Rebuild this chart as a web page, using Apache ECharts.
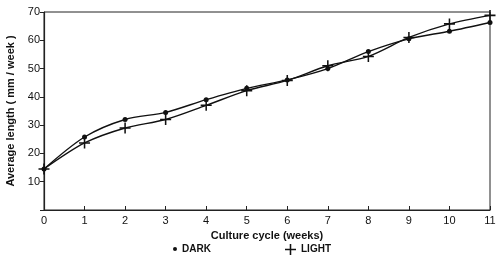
<!DOCTYPE html>
<html>
<head>
<meta charset="utf-8">
<script src="https://cdn.jsdelivr.net/npm/echarts@6/dist/echarts.min.js"></script>
<style>
  html, body { margin: 0; padding: 0; background: #fff; }
  #chart { width: 500px; height: 258px; }
</style>
</head>
<body>
<div id="chart"></div>
<script>
const weeks = ["0", "1", "2", "3", "4", "5", "6", "7", "8", "9", "10", "11"];
const darkValues = [14.5, 25.8, 32, 34.5, 39, 43, 46, 50, 56, 60.5, 63.2, 66.3];
const lightValues = [14.5, 23.7, 29, 32, 37, 42.2, 45.8, 51, 54.3, 61, 65.8, 68.8];

const plusPath = "path://M4.3,0L5.7,0L5.7,4.3L10,4.3L10,5.7L5.7,5.7L5.7,10L4.3,10L4.3,5.7L0,5.7L0,4.3L4.3,4.3Z";
const font = "Liberation Sans";
const legendText = { color: "#111", fontFamily: font, fontWeight: "bold", fontSize: 10 };

const chart = echarts.init(document.getElementById("chart"));
chart.setOption({
  animation: false,
  grid: {
    left: 44, right: 10, top: 12, bottom: 48,
    outerBoundsMode: "none",
    containLabel: false,
    show: true, borderColor: "#222", borderWidth: 1,
  },
  legend: [
    {
      top: 239, left: 168,
      itemWidth: 4, itemHeight: 4, itemGap: 6,
      textStyle: legendText,
      data: [{ name: "DARK", icon: "circle", itemStyle: { color: "#111" } }],
    },
    {
      top: 239, left: 280,
      itemWidth: 11, itemHeight: 11, itemGap: 6,
      textStyle: legendText,
      data: [{ name: "LIGHT", icon: plusPath, itemStyle: { color: "#111" } }],
    },
  ],
  xAxis: {
    type: "category",
    data: weeks,
    boundaryGap: false,
    name: "Culture cycle (weeks)",
    nameLocation: "middle",
    nameGap: 13,
    nameTextStyle: { color: "#111", fontFamily: font, fontWeight: "bold", fontSize: 11 },
    axisLine: { lineStyle: { color: "#222", width: 1.2 } },
    axisTick: { inside: true, length: 4, lineStyle: { color: "#222" } },
    axisLabel: { color: "#111", fontFamily: font, fontSize: 11, margin: 5 },
  },
  yAxis: {
    type: "value",
    min: 0, max: 70, interval: 10,
    name: "Average length ( mm / week )",
    nameLocation: "middle",
    nameGap: 27,
    nameTextStyle: { color: "#111", fontFamily: font, fontWeight: "bold", fontSize: 11 },
    axisLine: { show: true, lineStyle: { color: "#222", width: 1.2 } },
    axisTick: { show: true, length: 4, lineStyle: { color: "#222" } },
    axisLabel: {
      color: "#111", fontFamily: font, fontSize: 11, margin: 4,
      formatter: (v) => (v === 0 ? "" : v),
    },
    splitLine: { show: false },
  },
  series: [
    {
      name: "DARK",
      type: "line",
      data: darkValues,
      smooth: 0.3,
      symbol: "circle",
      symbolSize: 5,
      lineStyle: { color: "#111", width: 1.4 },
      itemStyle: { color: "#111" },
    },
    {
      name: "LIGHT",
      type: "line",
      data: lightValues,
      smooth: 0.3,
      symbol: plusPath,
      symbolSize: 11,
      lineStyle: { color: "#111", width: 1.4 },
      itemStyle: { color: "#111" },
    },
  ],
});
</script>
</body>
</html>
